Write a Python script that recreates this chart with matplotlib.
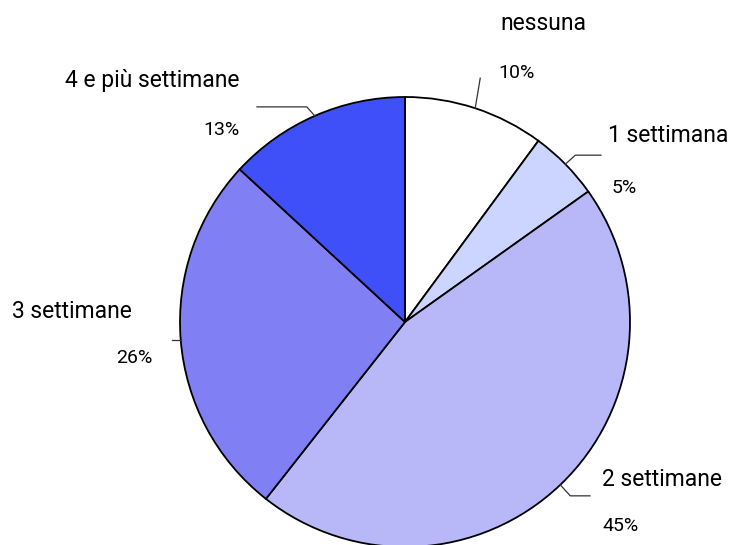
import numpy as np
import matplotlib
matplotlib.use("Agg")
import matplotlib.pyplot as plt

# data
categories = ["nessuna", "1 settimana", "2 settimane", "3 settimane", "4 e più settimane"]
values = [10, 5, 45, 26, 13]
pct_labels = ["10%", "5%", "45%", "26%", "13%"]
colors = ["#ffffff", "#ccd5ff", "#b8b8f8", "#8080f4", "#4050f8"]

W, H = 742, 545
CX, CY, R = 405, 545 - 322, 225

# label layout in pixel coords: (name x, name y, pct x, pct y, elbow dx, horizontal end x)
layout = [
    (500, 24, 498, 73, None, None),
    (608, 135, 612, 188, 10, 601),
    (602, 479, 602, 526, 10, 590),
    (12, 312, 116, 358, -8, 172),
    (65, 80, 203, 130, -8, 257),
]

plt.rcParams["font.family"] = ["Roboto", "DejaVu Sans"]

fig = plt.figure(figsize=(W / 100, H / 100), dpi=100)
ax = fig.add_axes([0, 0, 1, 1])

wedges, _ = ax.pie(values, colors=colors, startangle=90, counterclock=False,
                   center=(CX, CY), radius=R, frame=True,
                   wedgeprops=dict(edgecolor="black", linewidth=1.3))
ax.set_xlim(0, W)
ax.set_ylim(0, H)
ax.set_aspect("equal")
ax.axis("off")

for w, name, pct, (nx, ny, px, py, dx, hx) in zip(wedges, categories, pct_labels, layout):
    mid = np.deg2rad((w.theta1 + w.theta2) / 2)
    ex, ey = CX + R * np.cos(mid), CY + R * np.sin(mid)
    if dx is None:
        ax.plot([ex, ex + 5], [ey, ey + 30], color="#333333", lw=0.9)
    else:
        ey2 = ey + (9 if ey > CY else -11)
        if abs(ey - CY) < 30:
            ey2 = ey
        ax.plot([ex, ex + dx, hx], [ey, ey2, ey2], color="#333333", lw=0.9)
    ax.text(nx, H - ny, name, fontsize=16.5, ha="left", va="center")
    ax.text(px, H - py, pct, fontsize=14, ha="left", va="center")

fig.savefig("out.png", dpi=100)
